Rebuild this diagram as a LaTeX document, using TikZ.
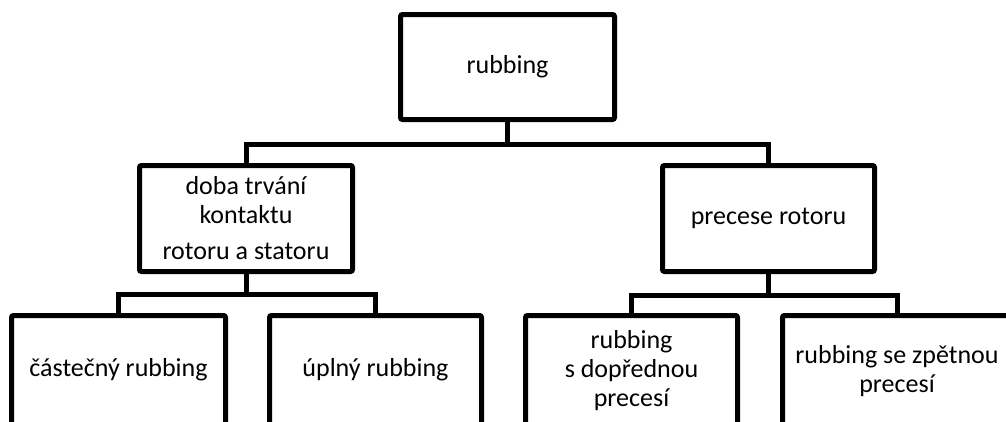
\documentclass[tikz,border=0pt]{standalone}
\usepackage{fontspec}
\setmainfont{Carlito}
\begin{document}
\begin{tikzpicture}[x=1pt,y=-1pt,
  box/.style={draw=black, line width=5pt, rounded corners=2pt, fill=white,
    inner sep=0pt, align=center,
    font=\fontsize{26}{29}\selectfont},
  conn/.style={draw=black, line width=5pt}]
\useasboundingbox (0,0) rectangle (1006,421);
\clip (0,0) rectangle (1006,421);
\fill[white] (0,0) rectangle (1006,421);
% nodes
\node[box, minimum width=214pt, minimum height=105pt] (top) at (507.5,67) {rubbing};
\node[box, minimum width=213pt, minimum height=106pt] (left) at (246,218.5)
  {doba trvání\\kontaktu\\[7pt]rotoru a statoru};
\node[box, minimum width=212pt, minimum height=106pt] (right) at (768.5,218.5) {precese rotoru};
\node[box, minimum width=214pt, minimum height=111pt] (b1) at (118.5,371) {\raisebox{7pt}{částečný rubbing}};
\node[box, minimum width=212pt, minimum height=111pt] (b2) at (375.5,371) {\raisebox{7pt}{úplný rubbing}};
\node[box, minimum width=212pt, minimum height=111pt] (b3) at (631.5,371) {rubbing\\s dopřednou\\precesí};
\node[box, minimum width=229pt, minimum height=111pt] (b4) at (897,371) {rubbing se zpětnou\\precesí};
% connectors
\coordinate (j1) at (507.5,144);
\coordinate (j2) at (246,294);
\coordinate (j3) at (768.5,295);
\draw[conn] (top.south) -- (j1);
\draw[conn] (left.north) |- (j1) -| (right.north);
\draw[conn] (left.south) -- (j2);
\draw[conn] (b1.north) |- (j2) -| (b2.north);
\draw[conn] (right.south) -- (j3);
\draw[conn] (b3.north) |- (j3) -| (b4.north);
\end{tikzpicture}
\end{document}
